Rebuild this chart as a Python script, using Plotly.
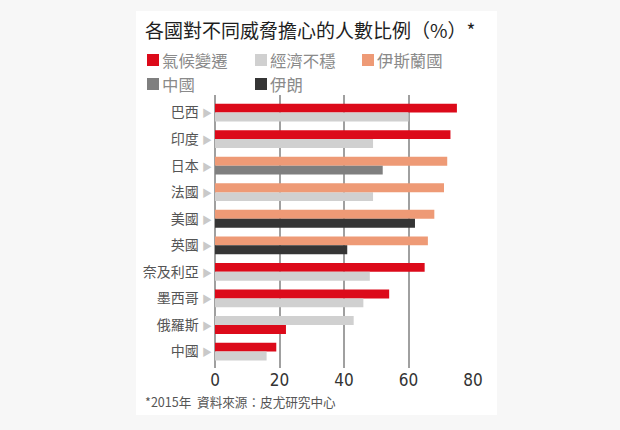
import plotly.graph_objects as go

# ---------------- data ----------------
countries = ["巴西", "印度", "日本", "法國", "美國", "英國", "奈及利亞", "墨西哥", "俄羅斯", "中國"]
top_threat = ["氣候變遷", "氣候變遷", "伊斯蘭國", "伊斯蘭國", "伊斯蘭國", "伊斯蘭國", "氣候變遷", "氣候變遷", "經濟不穩", "氣候變遷"]
top_values = [75, 73, 72, 71, 68, 66, 65, 54, 43, 19]
bottom_threat = ["經濟不穩", "經濟不穩", "中國", "經濟不穩", "伊朗", "伊朗", "經濟不穩", "經濟不穩", "氣候變遷", "經濟不穩"]
bottom_values = [60, 49, 52, 49, 62, 41, 48, 46, 22, 16]

threats = ["氣候變遷", "經濟不穩", "伊斯蘭國", "中國", "伊朗"]
threat_colors = ["#dc0a1a", "#d0d0d0", "#ee9a76", "#7f7f7f", "#353535"]
x_ticks = [0, 20, 40, 60, 80]

title_text = "各國對不同威脅擔心的人數比例（%）*"
footer_text = "*2015年  資料來源：皮尤研究中心"

# ---------------- layout constants ----------------
W, H = 620, 430
ML, MR, MT, MB = 215, 146, 95, 62
PW, PH = W - ML - MR, H - MT - MB
CJK = "Noto Sans CJK TC, Noto Sans CJK SC, sans-serif"
NUM = "Liberation Sans Narrow, DejaVu Sans Condensed, Arial, sans-serif"
BAR_W = 0.335


def px_x(px):
    return (px - ML) / PW


def px_y(py):
    return 1 - (py - MT) / PH


fig = go.Figure()

for t, col in zip(threats, threat_colors):
    xs, ys, offs = [], [], []
    for c, tt, v in zip(countries, top_threat, top_values):
        if tt == t:
            xs.append(v); ys.append(c); offs.append(-BAR_W)
    for c, tt, v in zip(countries, bottom_threat, bottom_values):
        if tt == t:
            xs.append(v); ys.append(c); offs.append(0.0)
    fig.add_trace(go.Bar(
        name=t, orientation="h", x=xs, y=ys,
        offset=offs, width=BAR_W,
        marker=dict(color=col, line=dict(width=0)),
        showlegend=False,
        hovertemplate="%{y}: %{x}%<extra>" + t + "</extra>",
    ))

ticktext = [
    f"{c} <span style='color:#c9c9c9;font-size:10px'>▶</span>" for c in countries
]

fig.update_layout(
    width=W, height=H,
    margin=dict(l=ML, r=MR, t=MT, b=MB, pad=0),
    paper_bgcolor="#f7f7f7",
    plot_bgcolor="rgba(0,0,0,0)",
    barmode="overlay",
    showlegend=False,
    xaxis=dict(
        range=[0, 80.3], tickvals=x_ticks, ticktext=[str(v) for v in x_ticks],
        showgrid=True, gridcolor="#a0a0a0", gridwidth=2,
        zeroline=True, zerolinecolor="#a0a0a0", zerolinewidth=2,
        showline=False, ticks="",
        tickfont=dict(family=NUM, size=17, color="#333333"),
        fixedrange=True,
    ),
    yaxis=dict(
        type="category", categoryorder="array", categoryarray=countries,
        tickvals=countries, ticktext=ticktext,
        range=[9.62, -0.66],
        showgrid=False, zeroline=False, showline=False, ticks="",
        ticklabelstandoff=2,
        tickfont=dict(family=CJK, size=14, color="#555555"),
        fixedrange=True,
    ),
)

# white card
fig.add_shape(type="rect", xref="paper", yref="paper",
              x0=px_x(136), x1=px_x(497), y0=px_y(415), y1=px_y(11),
              fillcolor="#ffffff", line=dict(width=0), layer="below")

# title
fig.add_annotation(text=title_text, xref="paper", yref="paper",
                   x=px_x(143), y=px_y(30), xanchor="left", yanchor="middle",
                   showarrow=False, font=dict(family=CJK, size=19, color="#1e1e1e"))

# legend (manual, laid out as in the original)
legend_pos = [(147, 60), (255, 60), (362, 60), (147, 84), (255, 84)]
for (lx, ly), t, col in zip(legend_pos, threats, threat_colors):
    fig.add_shape(type="rect", xref="paper", yref="paper",
                  x0=px_x(lx), x1=px_x(lx + 12), y0=px_y(ly + 6), y1=px_y(ly - 6),
                  fillcolor=col, line=dict(width=0))
    fig.add_annotation(text=t, xref="paper", yref="paper",
                       x=px_x(lx + 13), y=px_y(ly), xanchor="left", yanchor="middle",
                       showarrow=False, font=dict(family=CJK, size=16.4, color="#8a8a8a"))

# footer
fig.add_annotation(text=footer_text, xref="paper", yref="paper",
                   x=px_x(143), y=px_y(401), xanchor="left", yanchor="middle",
                   showarrow=False, font=dict(family=CJK, size=12.6, color="#555555"))

fig.write_html("out.html")
